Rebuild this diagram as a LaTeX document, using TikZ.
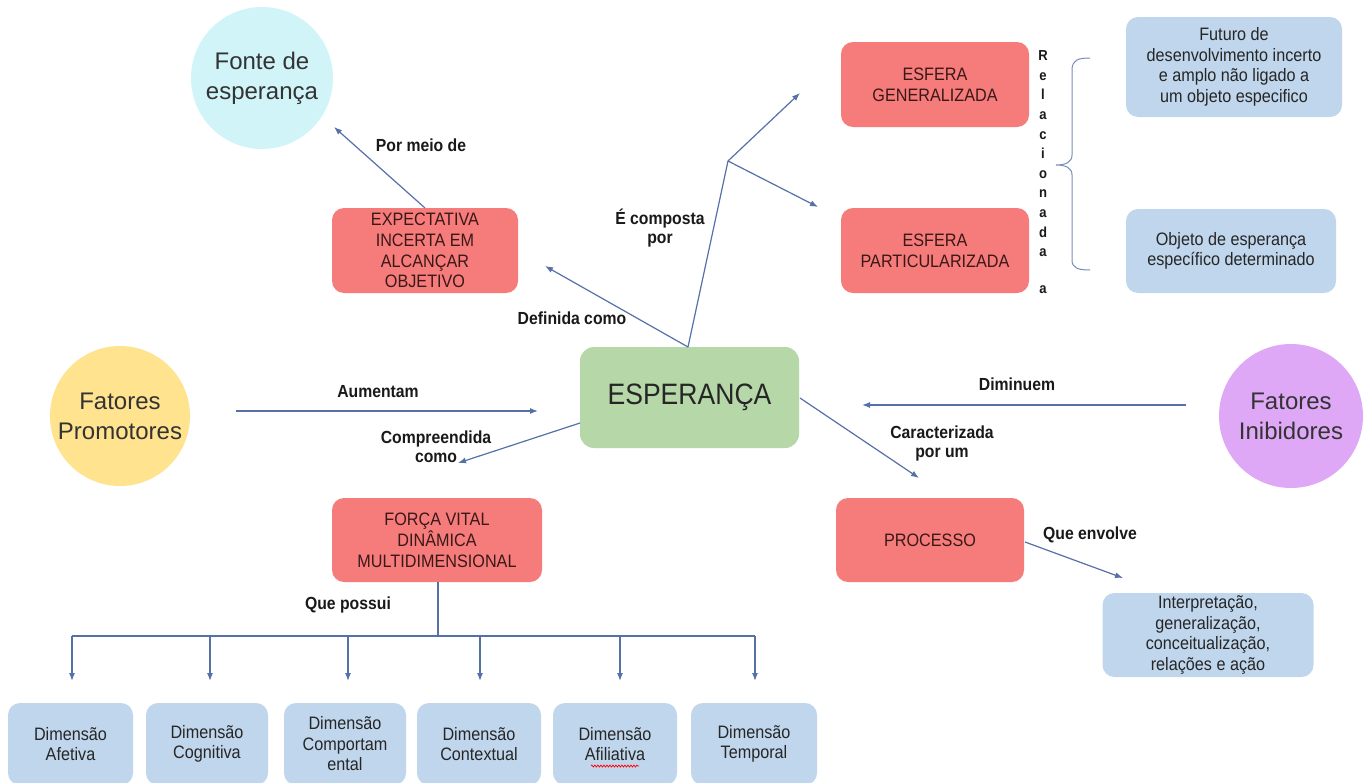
\documentclass[tikz,border=0pt]{standalone}
\usepackage{fontspec}
\setmainfont{Liberation Sans}[FakeStretch=0.9]
\newfontfamily\circfont{Liberation Sans}
\usetikzlibrary{arrows.meta,decorations.pathmorphing}
\definecolor{redbox}{HTML}{F67C7C}
\definecolor{greenbox}{HTML}{B6D7A8}
\definecolor{bluebox}{HTML}{C0D6EC}
\definecolor{cyancirc}{HTML}{D0F4F8}
\definecolor{yellowcirc}{HTML}{FFE38F}
\definecolor{purplecirc}{HTML}{DFA8F6}
\definecolor{linecol}{HTML}{5670A8}
\definecolor{redtext}{HTML}{3A1818}
\tikzset{
  rednode/.style={draw=none, fill=redbox, rounded corners=12pt, align=center, text=redtext,
    font=\fontsize{18}{20.8}\selectfont, inner sep=2pt},
  bluenode/.style={draw=none, fill=bluebox, rounded corners=12pt, align=center, text=black!85,
    font=\fontsize{18}{20.5}\selectfont, inner sep=2pt},
  circnode/.style={circle, draw=none, align=center, text=black!80,
    font=\circfont\fontsize{24}{30}\selectfont, inner sep=0pt},
  lbl/.style={align=center, font=\bfseries\fontsize{17.5}{19}\selectfont, text=black!90},
  conn/.style={draw=linecol, line width=1.2pt, -{Latex[length=8pt,width=6pt]}},
  plain/.style={draw=linecol, line width=1.2pt},
}
\begin{document}
\begin{tikzpicture}[x=1pt,y=-1pt]
\useasboundingbox (0,0) rectangle (1371,782);
\fill[white] (0,0) rectangle (1371,782);

% central
\node[fill=greenbox, rounded corners=14pt, minimum width=219pt, minimum height=101pt,
  font=\fontsize{29.5}{34}\selectfont, text=black!85] (esp) at (689.5,397.5) {ESPERANÇA};

% circles
\node[circnode, fill=cyancirc, minimum size=142pt] (fonte) at (262,78) {Fonte de\\esperança};
\node[circnode, fill=yellowcirc, minimum size=140pt] (promo) at (120,416) {Fatores\\Promotores};
\node[circnode, fill=purplecirc, minimum size=144pt] (inib) at (1291,416) {Fatores\\Inibidores};

% red boxes
\node[rednode, minimum width=186pt, minimum height=85pt] (expect) at (425,250.5) {EXPECTATIVA\\INCERTA EM\\ALCANÇAR\\OBJETIVO};
\node[rednode, minimum width=188pt, minimum height=85pt] (esfgen) at (935,84.5) {ESFERA\\GENERALIZADA};
\node[rednode, minimum width=188pt, minimum height=85pt] (esfpart) at (935,250.5) {ESFERA\\PARTICULARIZADA};
\node[rednode, minimum width=210pt, minimum height=84pt] (forca) at (437,540) {FORÇA VITAL\\DINÂMICA\\MULTIDIMENSIONAL};
\node[rednode, minimum width=188pt, minimum height=84pt] (processo) at (930,540) {PROCESSO};

% blue boxes
\node[bluenode, minimum width=216pt, minimum height=100pt] (futuro) at (1234,67) {Futuro de\\desenvolvimento incerto\\e amplo não ligado a\\um objeto especifico};
\node[bluenode, minimum width=210pt, minimum height=84pt] (objeto) at (1231,251) {Objeto de esperança\\específico determinado};
\node[bluenode, minimum width=211pt, minimum height=84pt] (interp) at (1208,635) {Interpretação,\\generalização,\\conceitualização,\\relações e ação};

% dimension boxes
\node[bluenode, minimum width=125pt, minimum height=82pt] (d1) at (70.5,744) {Dimensão\\Afetiva};
\node[bluenode, minimum width=122pt, minimum height=82pt] (d2) at (207,744) {Dimensão\\Cognitiva};
\node[bluenode, minimum width=122pt, minimum height=82pt] (d3) at (345,744) {Dimensão\\Comportam\\ental};
\node[bluenode, minimum width=124pt, minimum height=82pt] (d4) at (479,744) {Dimensão\\Contextual};
\node[bluenode, minimum width=124pt, minimum height=82pt] (d5) at (615,744) {Dimensão\\Afiliativa};
\node[bluenode, minimum width=126pt, minimum height=82pt] (d6) at (754,744) {Dimensão\\Temporal};

% spellcheck squiggle under Afiliativa
\coordinate (sq1) at (591,766);
\coordinate (sq2) at (639,766);
\draw[red, line width=0.7pt, decorate, decoration={snake, amplitude=1pt, segment length=3pt}] (sq1) -- (sq2);

% vertical text and brace
\node[align=center, font=\bfseries\fontsize{14.5}{19.6}\selectfont, text=black!90] (rel) at (1043,172)
  {R\\e\\l\\a\\c\\i\\o\\n\\a\\d\\a\\[17pt]a};
\coordinate (brtop) at (1090,58);
\coordinate (brbot) at (1090,270);
\draw[draw=linecol!80, line width=1pt] (brtop) .. controls (1078,58) and (1072,60) .. (1072,70) -- (1072,155)
  .. controls (1072,162) and (1066,165) .. (1056,165)
  .. controls (1066,165) and (1072,168) .. (1072,175) -- (1072,260)
  .. controls (1072,268) and (1078,270) .. (brbot);

% connectors
\coordinate (esptop) at (688,347);
\coordinate (fork) at (728,161);
\coordinate (a1) at (545,266);
\draw[conn] (esptop) -- (a1);
\draw[plain] (esptop) -- (fork);
\coordinate (a2) at (800,93);
\coordinate (a3) at (818,207);
\draw[conn] (fork) -- (a2);
\draw[conn] (fork) -- (a3);

\coordinate (e1) at (425,208);
\coordinate (e2) at (334,127);
\draw[conn] (e1) -- (e2);

\coordinate (p1) at (236,411);
\coordinate (p2) at (538,411);
\draw[conn] (p1) -- (p2);

\coordinate (i1) at (1186,405);
\coordinate (i2) at (862,405);
\draw[conn] (i1) -- (i2);

\coordinate (c1) at (580,423);
\coordinate (c2) at (458,463);
\draw[conn] (c1) -- (c2);

\coordinate (k1) at (800,398);
\coordinate (k2) at (919,478);
\draw[conn] (k1) -- (k2);

\coordinate (q1) at (1025,542);
\coordinate (q2) at (1123,578);
\draw[conn] (q1) -- (q2);

% tree
\coordinate (t0) at (438,582);
\coordinate (t1) at (438,636);
\draw[plain] (t0) -- (t1);
\draw[plain] (72,636) -- (755,636);
\foreach \x/\n in {72/1,210/2,348/3,480/4,620/5,755/6}{
  \coordinate (tt\n) at (\x,636);
  \coordinate (tb\n) at (\x,681);
  \draw[conn] (tt\n) -- (tb\n);
}

% labels
\node[lbl] (lporm) at (421,145) {Por meio de};
\node[lbl] (ldef) at (572,318) {Definida como};
\node[lbl] (lcomp) at (660,228) {É composta\\por};
\node[lbl] (laum) at (378,392) {Aumentam};
\node[lbl] (lcompr) at (436,447) {Compreendida\\como};
\node[lbl] (ldim) at (1017,384) {Diminuem};
\node[lbl] (lcar) at (942,443) {Caracterizada\\por um};
\node[lbl] (lque) at (1090,535) {Que envolve};
\node[lbl] (lpos) at (348,605) {Que possui};
\end{tikzpicture}
\end{document}
